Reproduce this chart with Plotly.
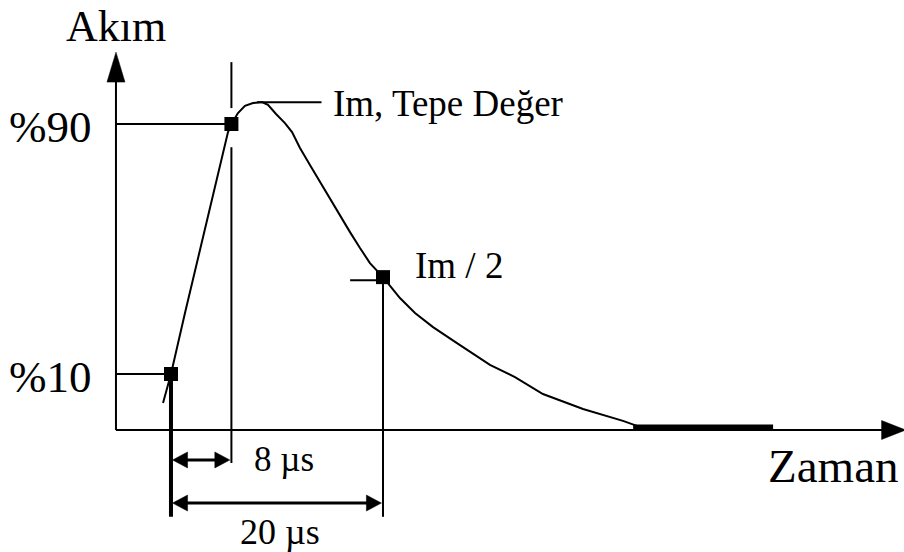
import plotly.graph_objects as go

# Impulse current waveform: time in µs from the 10 % crossing, current in % of the scale
wave_t = [-0.75, -0.38, 0.0, 1.32, 2.74, 4.15, 5.38, 5.7, 6.32, 6.98, 7.74, 8.58, 9.15,
          9.91, 10.75, 11.42, 12.17, 13.11, 14.06, 15.0, 15.94, 16.89, 17.83, 18.77, 20.0,
          21.6, 23.02, 24.72, 26.98, 30.09, 32.45, 35.09, 38.87, 42.64, 43.96]
wave_i = [0.7, 4.9, 10.0, 29.5, 49.7, 69.9, 87.4, 90.0, 93.5, 95.8, 96.7, 97.0, 96.1,
          93.2, 90.3, 87.4, 82.3, 76.9, 71.4, 66.0, 60.9, 55.4, 50.3, 45.5, 41.0,
          34.3, 29.5, 25.0, 19.9, 12.9, 9.0, 3.6, -1.2, -5.0, -6.6]

# flat end of the wave along the time axis
tail_t = [43.6, 56.8]
tail_i = [-7.0, -7.0]

# characteristic points: 10 %, 90 % and half value
mark_t = [0.0, 5.7, 20.0]
mark_i = [10.0, 90.0, 41.0]

level_labels = ["%10", "%90"]
level_values = [10.0, 90.0]

peak_i = 97.0
peak_label = "Im, Tepe Değer"
half_label = "Im / 2"

span_labels = ["8 µs", "20 µs"]
span_ends = [5.7, 20.0]
span_levels = [-17.5, -31.3]

axis_t = -5.19          # position of the current axis
axis_i = -7.92          # position of the time axis
axis_t_tip = 69.3
axis_i_tip = 113.0

T_RANGE = [-16.13, 69.15]
I_RANGE = [-46.96, 129.68]
W, H = 904, 552
PX_T = W / (T_RANGE[1] - T_RANGE[0])
PX_I = H / (I_RANGE[1] - I_RANGE[0])

FONT = "Liberation Serif"
BLACK = "#000000"

fig = go.Figure()


def head_poly(tip_t, tip_i, direction, length, width):
    """Filled arrow head; length/width given in pixels."""
    lt, li = length / PX_T, length / PX_I
    wt, wi = width / 2 / PX_T, width / 2 / PX_I
    if direction == "up":
        xs = [tip_t, tip_t - wt, tip_t + wt, tip_t]
        ys = [tip_i, tip_i - li, tip_i - li, tip_i]
    elif direction == "right":
        xs = [tip_t, tip_t - lt, tip_t - lt, tip_t]
        ys = [tip_i, tip_i + wi, tip_i - wi, tip_i]
    else:  # left
        xs = [tip_t, tip_t + lt, tip_t + lt, tip_t]
        ys = [tip_i, tip_i + wi, tip_i - wi, tip_i]
    fig.add_trace(go.Scatter(x=xs, y=ys, mode="lines", fill="toself",
                             fillcolor=BLACK, line=dict(color=BLACK, width=0.5),
                             hoverinfo="skip", showlegend=False))


def seg(x0, y0, x1, y1, width=2):
    fig.add_shape(type="line", x0=x0, y0=y0, x1=x1, y1=y1, xref="x", yref="y",
                  line=dict(color=BLACK, width=width))


# axes with arrow heads
Y_HEAD, X_HEAD = 30, 24
seg(axis_t, axis_i, axis_t, axis_i_tip - Y_HEAD / PX_I + 1 / PX_I)
seg(axis_t, axis_i, axis_t_tip - X_HEAD / PX_T + 1 / PX_T, axis_i)
head_poly(axis_t, axis_i_tip, "up", Y_HEAD, 18)
head_poly(axis_t_tip, axis_i, "right", X_HEAD, 19)

# level guides
seg(axis_t, level_values[1], mark_t[1], level_values[1])
seg(axis_t, level_values[0], mark_t[0], level_values[0])

# vertical guide through the 90 % point (interrupted near the curve)
seg(mark_t[1], 109.8, mark_t[1], 95.1)
seg(mark_t[1], 82.6, mark_t[1], span_levels[0] - 1.0)

# vertical guides for the spans
seg(mark_t[0], mark_i[0], mark_t[0], -35.7, width=4)
seg(mark_t[2], mark_i[2], mark_t[2], -35.7)

# half value tick and peak leader
seg(16.9, 40.0, mark_t[2], 40.0)
seg(8.1, peak_i, 14.2, peak_i)

# dimension arrows
D_HEAD = 15
for end, lvl in zip(span_ends, span_levels):
    seg(mark_t[0] + (D_HEAD - 1) / PX_T, lvl, end - (D_HEAD - 1) / PX_T, lvl, width=3)
    head_poly(mark_t[0] + 0.15, lvl, "left", D_HEAD, 16)
    head_poly(end - 0.15, lvl, "right", D_HEAD, 16)

# waveform
fig.add_trace(go.Scatter(x=wave_t, y=wave_i, mode="lines",
                         line=dict(color=BLACK, width=2),
                         hoverinfo="skip", showlegend=False))
fig.add_trace(go.Scatter(x=tail_t, y=tail_i, mode="lines",
                         line=dict(color=BLACK, width=5),
                         hoverinfo="skip", showlegend=False))
fig.add_trace(go.Scatter(x=mark_t, y=mark_i, mode="markers",
                         marker=dict(symbol="square", size=14, color=BLACK),
                         hoverinfo="skip", showlegend=False))


def label(text, x, y, size, xanchor="left", yanchor="middle"):
    fig.add_annotation(text=text, x=x, y=y, xref="x", yref="y", showarrow=False,
                       xanchor=xanchor, yanchor=yanchor,
                       font=dict(family=FONT, size=size, color=BLACK))


label("Akım", axis_t, I_RANGE[1], 44, xanchor="center", yanchor="top")
label("Zaman", 68.85, -19.4, 47, xanchor="right")
for txt, lvl in zip(level_labels, level_values):
    label(txt, -7.3, lvl - 1.0, 45, xanchor="right")
label(peak_label, 15.1, 96.6, 37)
label(half_label, 22.85, 44.6, 37)
label(span_labels[0], 7.6, span_levels[0], 35)
label(span_labels[1], 6.3, -40.5, 36)

fig.update_layout(
    width=W, height=H,
    margin=dict(l=0, r=0, t=0, b=0),
    paper_bgcolor="white", plot_bgcolor="white",
    xaxis=dict(range=T_RANGE, visible=False, fixedrange=True),
    yaxis=dict(range=I_RANGE, visible=False, fixedrange=True),
    showlegend=False,
)

fig.write_html("out.html")
